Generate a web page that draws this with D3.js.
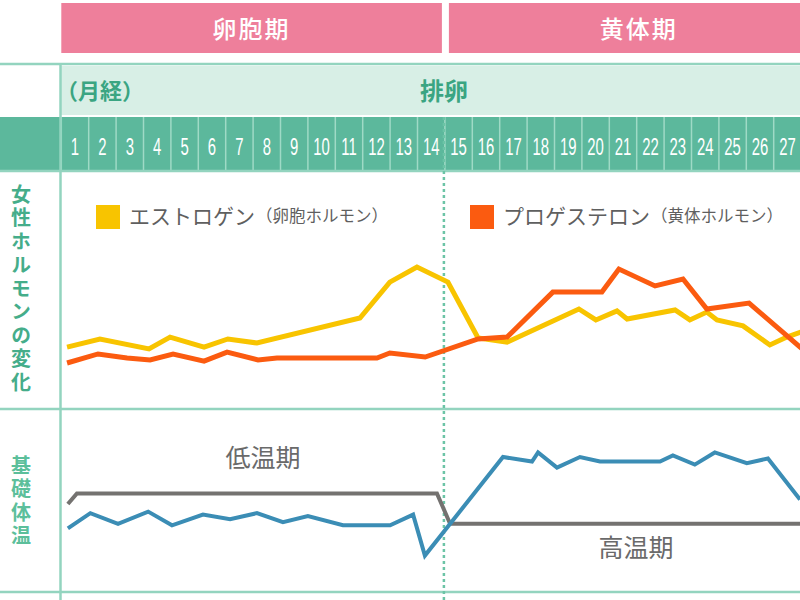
<!DOCTYPE html>
<html>
<head>
<meta charset="utf-8">
<script src="https://cdn.jsdelivr.net/npm/d3@7"></script>
<style>
  html, body { margin: 0; padding: 0; background: #fff; }
  svg { display: block; }
  text { font-family: "Noto Sans CJK JP", "Noto Sans", sans-serif; }
</style>
</head>
<body>
<svg id="chart" width="800" height="600"></svg>
<script>
// cycle days and phases (only days 1-27 are visible in the picture)
var days = d3.range(1, 28);
var phaseNames = ["卵胞期", "黄体期"];
var phaseStart = [0, 14];
var phaseEnd = [14, 28];
var ovulationDay = 14;

// hormone levels (relative, 0-100), x is position in days
var estrogenDay = [0.21, 1.41, 3.2, 3.97, 5.21, 6.08, 7.14, 10.9, 11.99, 12.98, 14.11, 15.21, 16.27, 18.89, 19.51, 20.28, 20.65, 22.4, 22.94, 23.56, 23.93, 24.88, 25.86, 26.48, 27.2];
var estrogenLevel = [25.6, 29.0, 24.8, 29.8, 25.6, 29.0, 27.3, 37.8, 52.9, 59.2, 52.9, 29.4, 27.7, 41.6, 37.0, 40.8, 37.4, 41.2, 37.0, 40.3, 37.0, 34.5, 26.5, 29.8, 32.8];
var progesteroneDay = [0.21, 1.34, 2.4, 3.24, 4.08, 5.21, 6.05, 7.18, 7.87, 11.52, 11.99, 13.28, 15.21, 16.27, 17.94, 19.73, 20.35, 21.67, 22.69, 23.56, 25.1, 26.96, 27.5];
var progesteroneLevel = [18.9, 22.7, 21.0, 20.2, 22.7, 19.7, 23.5, 20.2, 21.0, 21.0, 23.1, 21.4, 29.0, 29.8, 48.7, 48.7, 58.4, 51.3, 54.2, 41.6, 44.1, 25.6, 21.0];

// basal body temperature
var tempDay = [0.24, 1.06, 2.07, 3.17, 4.04, 5.17, 6.16, 7.14, 8.09, 9.0, 10.28, 12.0, 12.84, 13.27, 16.12, 17.18, 17.4, 18.09, 18.93, 19.66, 21.85, 22.32, 23.12, 23.85, 25.02, 25.79, 26.96];
var tempValue = [36.22, 36.32, 36.25, 36.33, 36.24, 36.31, 36.28, 36.32, 36.26, 36.30, 36.24, 36.24, 36.31, 36.04, 36.69, 36.66, 36.72, 36.62, 36.69, 36.66, 36.66, 36.70, 36.64, 36.72, 36.65, 36.68, 36.41];
var phaseLineDay = [0.24, 0.57, 13.71, 14.19, 28];
var phaseLineValue = [36.38, 36.45, 36.45, 36.25, 36.25];

var svg = d3.select("#chart");
var x = d3.scaleLinear().domain([0, 28]).range([61.3, 828.5]);
var yHormone = d3.scaleLinear().domain([0, 100]).range([408, 170]);
var yTemp = d3.scaleLinear().domain([35.8, 37.0]).range([592, 410]);

var teal = "#3aa582", lineTeal = "#93d4bf";

// phase header bars
phaseNames.forEach(function(name, i) {
  var x0 = x(phaseStart[i]) + (i ? 4 : 0);
  var x1 = x(phaseEnd[i]) - (i ? 0 : 3);
  svg.append("rect").attr("x", x0).attr("y", 3).attr("width", x1 - x0).attr("height", 50).attr("fill", "#ee7f9b");
  svg.append("text").attr("x", (x0 + x1) / 2).attr("y", 31).attr("text-anchor", "middle")
    .attr("dominant-baseline", "middle").attr("fill", "#fff").attr("font-size", 24)
    .attr("font-weight", 500).attr("letter-spacing", 2).text(name);
});

// menstruation / ovulation band
svg.append("rect").attr("x", 61).attr("y", 66).attr("width", 740).attr("height", 49).attr("fill", "#d8efe6");
svg.append("text").attr("x", 56).attr("y", 93).attr("dominant-baseline", "middle")
  .attr("fill", teal).attr("font-size", 22).attr("font-weight", "bold").text("（月経）");
svg.append("text").attr("x", x(ovulationDay) - 1).attr("y", 93).attr("text-anchor", "middle")
  .attr("dominant-baseline", "middle").attr("fill", teal).attr("font-size", 24)
  .attr("font-weight", "bold").text("排卵");

// day number row
svg.append("rect").attr("x", 0).attr("y", 117).attr("width", 800).attr("height", 53).attr("fill", "#5cb89c");
svg.selectAll(".divider").data(d3.range(0, 29)).enter().append("line")
  .attr("x1", function(d) { return x(d); }).attr("x2", function(d) { return x(d); })
  .attr("y1", 117).attr("y2", 170).attr("stroke", "#9fdac6").attr("stroke-width", 1.5);
// condensed numbers: squeeze horizontally
svg.selectAll(".day").data(days).enter().append("text")
  .attr("transform", function(d) { return "translate(" + x(d - 0.5) + ",149) scale(0.62,1)"; })
  .attr("text-anchor", "middle").attr("dominant-baseline", "middle")
  .attr("fill", "#fff").attr("font-size", 24).attr("font-weight", 500)
  .style("font-family", "'Liberation Sans', Roboto, sans-serif")
  .text(function(d) { return d; });

// frame lines
[64, 171, 409, 592].forEach(function(yy) {
  svg.append("line").attr("x1", 0).attr("x2", 800).attr("y1", yy).attr("y2", yy)
    .attr("stroke", lineTeal).attr("stroke-width", 2.5);
});
svg.append("line").attr("x1", 60.5).attr("x2", 60.5).attr("y1", 64).attr("y2", 600)
  .attr("stroke", lineTeal).attr("stroke-width", 2.5);
svg.append("line").attr("x1", x(ovulationDay) - 1).attr("x2", x(ovulationDay) - 1)
  .attr("y1", 117).attr("y2", 600).attr("stroke", "#6cc4a6").attr("stroke-width", 2.5)
  .attr("stroke-dasharray", "3,3");

// vertical side labels
function sideLabel(str, y0, color) {
  svg.append("text").attr("x", 21).attr("y", y0)
    .style("writing-mode", "vertical-rl").style("text-orientation", "upright")
    .attr("fill", color).attr("font-size", 20).attr("letter-spacing", 3.5)
    .attr("font-weight", "bold").text(str);
}
sideLabel("女性ホルモンの変化", 184, "#45ad8a");
sideLabel("基礎体温", 455, "#5cbf9b");

// legend
var legend = [
  { x: 96, color: "#f8c400", name: "エストロゲン", note: "（卵胞ホルモン）" },
  { x: 470, color: "#fb5b10", name: "プロゲステロン", note: "（黄体ホルモン）" }
];
legend.forEach(function(l) {
  svg.append("rect").attr("x", l.x).attr("y", 205).attr("width", 24).attr("height", 24).attr("fill", l.color);
  var t = svg.append("text").attr("x", l.x + 33).attr("y", 218).attr("dominant-baseline", "middle").attr("fill", "#5f5f5f");
  t.append("tspan").attr("font-size", 21).text(l.name);
  t.append("tspan").attr("font-size", 16.5).attr("dx", 1).text(l.note);
});

// hormone lines
var hLine = d3.line().x(function(d) { return x(d[0]); }).y(function(d) { return yHormone(d[1]); });
svg.append("path").datum(d3.zip(estrogenDay, estrogenLevel)).attr("d", hLine)
  .attr("fill", "none").attr("stroke", "#f8c400").attr("stroke-width", 5);
svg.append("path").datum(d3.zip(progesteroneDay, progesteroneLevel)).attr("d", hLine)
  .attr("fill", "none").attr("stroke", "#fb5b10").attr("stroke-width", 5);

// temperature lines
var tLine = d3.line().x(function(d) { return x(d[0]); }).y(function(d) { return yTemp(d[1]); });
svg.append("path").datum(d3.zip(phaseLineDay, phaseLineValue)).attr("d", tLine)
  .attr("fill", "none").attr("stroke", "#747270").attr("stroke-width", 4);
svg.append("path").datum(d3.zip(tempDay, tempValue)).attr("d", tLine)
  .attr("fill", "none").attr("stroke", "#3b8db5").attr("stroke-width", 4);

svg.append("text").attr("x", 263).attr("y", 460).attr("text-anchor", "middle").attr("dominant-baseline", "middle")
  .attr("fill", "#6a6a6a").attr("font-size", 25).text("低温期");
svg.append("text").attr("x", 636).attr("y", 550).attr("text-anchor", "middle").attr("dominant-baseline", "middle")
  .attr("fill", "#6a6a6a").attr("font-size", 25).text("高温期");
</script>
</body>
</html>
